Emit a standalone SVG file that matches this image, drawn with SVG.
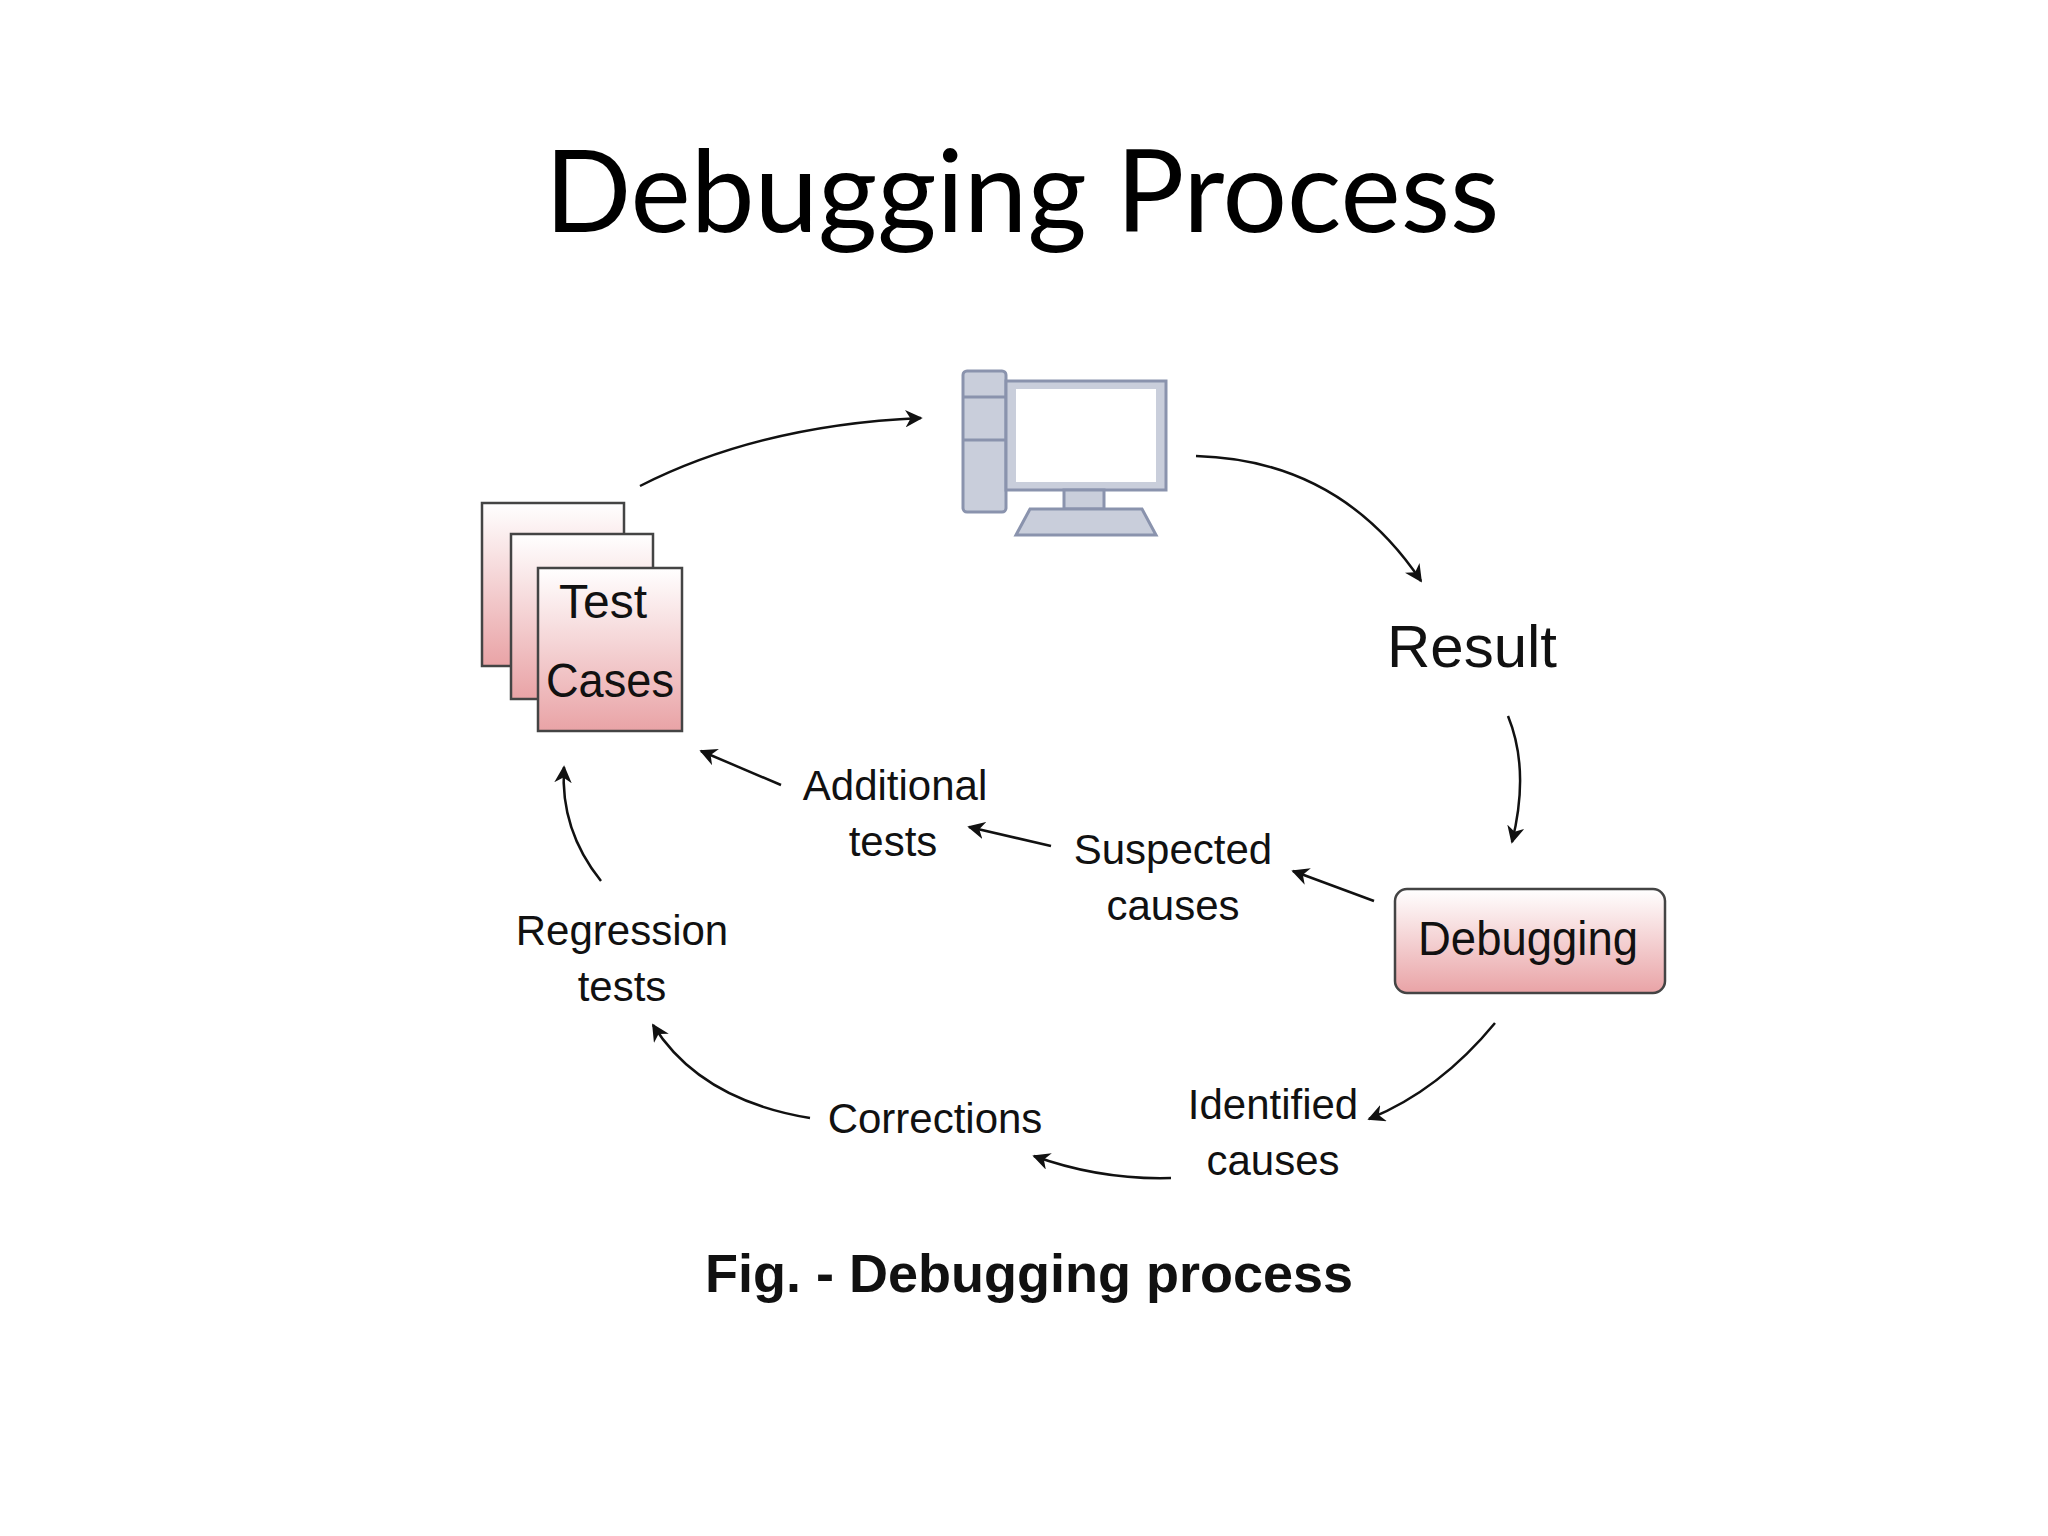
<svg xmlns="http://www.w3.org/2000/svg" width="2048" height="1536" viewBox="0 0 2048 1536">
<defs>
<linearGradient id="pink" x1="0" y1="0" x2="0" y2="1"><stop offset="0" stop-color="#ffffff"/><stop offset="1" stop-color="#e9a3a6"/></linearGradient>
<marker id="ah" viewBox="0 0 10 10" refX="9" refY="5" markerWidth="7" markerHeight="7" orient="auto"><path d="M0,0 L10,5 L0,10 L3,5 z" fill="#111"/></marker>
<style>
.t{font-family:"Liberation Sans",Arial,sans-serif;fill:#111;text-anchor:middle}
.l{font-size:42px}
.c{fill:none;stroke:#111;stroke-width:2.5;marker-end:url(#ah)}
.box{fill:url(#pink);stroke:#444;stroke-width:2.5}
</style>
</defs>
<rect width="2048" height="1536" fill="#fff"/>
<text x="1022" y="232" font-family="Lato,'Open Sans',sans-serif" font-size="114" text-anchor="middle" fill="#000">Debugging Process</text>
<g id="computer">
<rect x="963" y="371" width="43" height="141" rx="4" fill="#c9cedb" stroke="#8a93ad" stroke-width="3"/>
<line x1="963" y1="397" x2="1006" y2="397" stroke="#8a93ad" stroke-width="3"/>
<line x1="963" y1="440" x2="1006" y2="440" stroke="#8a93ad" stroke-width="3"/>
<rect x="1006" y="381" width="160" height="109" fill="#c9cedb" stroke="#8a93ad" stroke-width="3"/>
<rect x="1016" y="389" width="140" height="93" fill="#fff"/>
<rect x="1064" y="490" width="40" height="19" fill="#c9cedb" stroke="#8a93ad" stroke-width="3"/>
<polygon points="1030,509 1142,509 1156,535 1016,535" fill="#c9cedb" stroke="#8a93ad" stroke-width="3"/>
</g>
<g id="testcases">
<rect class="box" x="482" y="503" width="142" height="163"/>
<rect class="box" x="511" y="534" width="142" height="165"/>
<rect class="box" x="538" y="568" width="144" height="163"/>
<text class="t" x="603" y="618" font-size="48">Test</text>
<text class="t" x="610" y="697" font-size="48" textLength="128" lengthAdjust="spacingAndGlyphs">Cases</text>
</g>
<g id="result"><text class="t" x="1472" y="667" font-size="60">Result</text></g>
<g id="debugging">
<rect class="box" x="1395" y="889" width="270" height="104" rx="12"/>
<text class="t" x="1528" y="955" font-size="48" textLength="220" lengthAdjust="spacingAndGlyphs">Debugging</text>
</g>
<g id="labels" class="t l">
<text x="895" y="800">Additional</text><text x="893" y="856">tests</text>
<text x="1173" y="864">Suspected</text><text x="1173" y="920">causes</text>
<text x="622" y="945">Regression</text><text x="622" y="1001">tests</text>
<text x="935" y="1133">Corrections</text>
<text x="1273" y="1119">Identified</text><text x="1273" y="1175">causes</text>
</g>
<text class="t" x="1029" y="1292" font-size="54" font-weight="bold">Fig. - Debugging process</text>
<g id="connectors">
<path class="c" d="M640,486 Q760,425 921,418"/>
<path class="c" d="M1196,456 Q1340,460 1421,581"/>
<path class="c" d="M1508,716 Q1530,770 1512,842"/>
<path class="c" d="M1374,901 L1293,871"/>
<path class="c" d="M1051,846 L969,827"/>
<path class="c" d="M781,785 L701,751"/>
<path class="c" d="M1495,1023 Q1440,1090 1369,1119"/>
<path class="c" d="M1171,1178 Q1100,1180 1034,1156"/>
<path class="c" d="M810,1118 Q700,1100 653,1025"/>
<path class="c" d="M601,881 Q560,830 564,767"/>
</g>
</svg>
